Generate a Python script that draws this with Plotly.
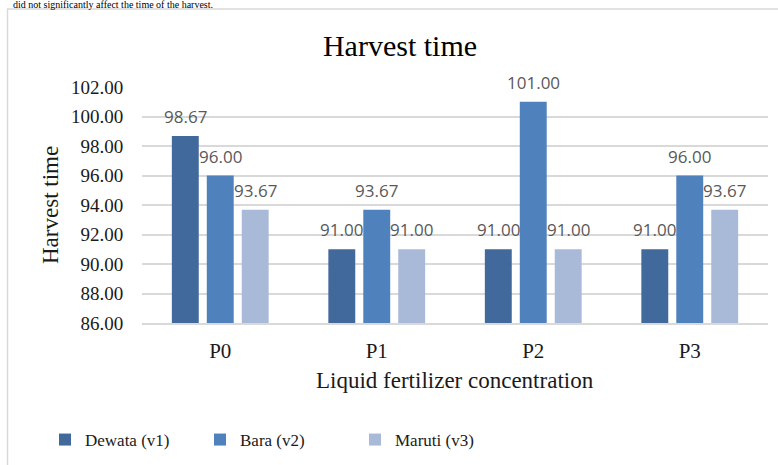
import plotly.graph_objects as go

categories = ["P0", "P1", "P2", "P3"]
dewata = [98.67, 91.00, 91.00, 91.00]
bara = [96.00, 93.67, 101.00, 96.00]
maruti = [93.67, 91.00, 91.00, 93.67]
series_names = ["Dewata (v1)", "Bara (v2)", "Maruti (v3)"]
colors = ["#41699c", "#4f81bd", "#a9b9d8"]
y_ticks = [86, 88, 90, 92, 94, 96, 98, 100, 102]

serif = "Liberation Serif"
sans = "Open Sans"

BARGAP = 0.33
fig = go.Figure()
all_series = [dewata, bara, maruti]
for name, vals, col in zip(series_names, all_series, colors):
    fig.add_trace(go.Bar(
        name=name, x=categories, y=vals,
        marker=dict(color=col, line=dict(width=0)),
        cliponaxis=False,
    ))

# data labels placed above each bar (category index + group offset)
slot = (1 - BARGAP) / len(all_series)
for k, vals in enumerate(all_series):
    for i, v in enumerate(vals):
        fig.add_annotation(
            x=i + (k - 1) * slot, y=v, xref="x", yref="y",
            text=f"{v:.2f}", showarrow=False, yanchor="bottom", yshift=6,
            font=dict(family=sans, size=17, color="#595959"),
        )

W, H = 778, 465
L, R, T, B = 142, 10, 87, 142
pw = W - L - R
ph = H - T - B

def px_x(px):
    return (px - L) / pw

def px_y(py):
    return (H - B - py) / ph

fig.update_layout(
    width=W, height=H,
    margin=dict(l=L, r=R, t=T, b=B, autoexpand=False),
    paper_bgcolor="white", plot_bgcolor="white",
    barmode="group", bargap=BARGAP, bargroupgap=0.23,
    title=dict(text="Harvest time", x=400 / W, xanchor="center", y=1 - 45 / H, yanchor="middle",
               font=dict(family=serif, size=30, color="#000000")),
    xaxis=dict(
        showgrid=False, showline=True, linecolor="#d9d9d9", linewidth=1.5,
        ticks="outside", ticklen=8, tickcolor="rgba(0,0,0,0)",
        tickfont=dict(family=serif, size=21, color="#1a1a1a"),
        automargin=False,
    ),
    yaxis=dict(
        range=[86, 102], tickvals=y_ticks, tickformat=".2f",
        showgrid=True, gridcolor="#d9d9d9", gridwidth=1.5, zeroline=False, showline=False,
        ticks="outside", ticklen=14, tickcolor="rgba(0,0,0,0)",
        tickfont=dict(family=serif, size=19, color="#1a1a1a"),
        automargin=False,
    ),
    legend=dict(
        orientation="h", x=px_x(45), xanchor="left", y=px_y(440), yanchor="middle",
        entrywidth=110, entrywidthmode="pixels",
        font=dict(family=serif, size=17, color="#1a1a1a"),
        bgcolor="rgba(0,0,0,0)",
    ),
    showlegend=True,
)

# axis titles
fig.add_annotation(text="Liquid fertilizer concentration", xref="paper", yref="paper",
                   x=0.5, y=px_y(380), xanchor="center", yanchor="middle", showarrow=False,
                   font=dict(family=serif, size=23, color="#1a1a1a"))
fig.add_annotation(text="Harvest time", xref="paper", yref="paper", textangle=-90,
                   x=px_x(50), y=0.5, xanchor="center", yanchor="middle", showarrow=False,
                   font=dict(family=serif, size=23, color="#1a1a1a"))

fig.add_shape(type="rect", xref="paper", yref="paper",
              x0=px_x(7.5), x1=px_x(800), y0=px_y(9), y1=px_y(500),
              line=dict(color="#d9d9d9", width=1.5), fillcolor="rgba(0,0,0,0)", layer="below")

fig.add_annotation(text="did not significantly affect the time of the harvest.",
                   xref="paper", yref="paper", x=px_x(12), xanchor="left",
                   y=px_y(-2), yanchor="top", showarrow=False, borderpad=0,
                   font=dict(family=serif, size=10, color="#000000"))

fig.write_html("out.html", config={"displayModeBar": False},
               post_script="document.body.style.margin='0';")
